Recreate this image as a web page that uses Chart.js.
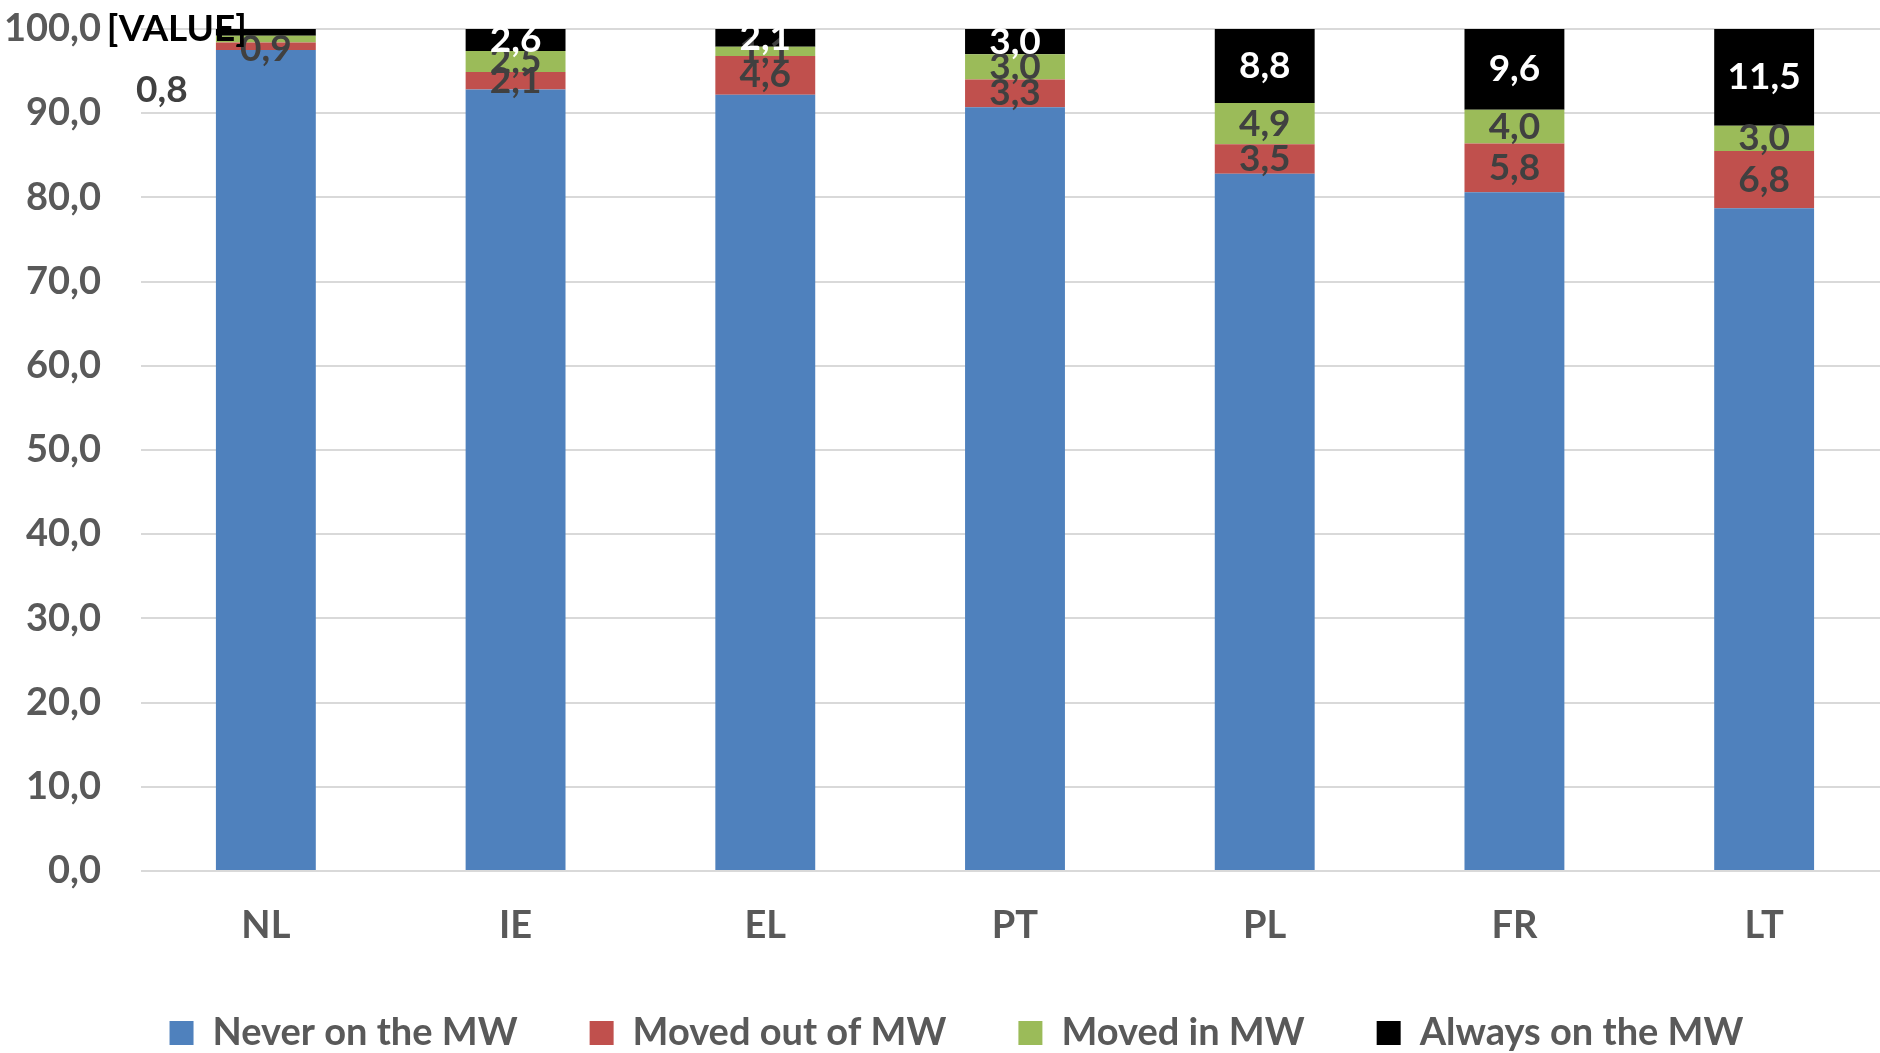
<!DOCTYPE html>
<html>
<head>
<meta charset="utf-8">
<script src="https://cdn.jsdelivr.net/npm/chart.js@4.4.1/dist/chart.umd.min.js"></script>
<style>
  html, body { margin: 0; padding: 0; background: #fff; overflow: hidden; }
  #wrap { width: 1880px; height: 1053px; overflow: hidden; }
</style>
</head>
<body>
<div id="wrap"><canvas id="mwChart" width="1890" height="1062"></canvas></div>
<script>
// categories and series (percent of workers)
const categories = ['NL', 'IE', 'EL', 'PT', 'PL', 'FR', 'LT'];
const neverOnMW = [97.5, 92.8, 92.2, 90.7, 82.8, 80.6, 78.7];
const movedOutOfMW = [0.9, 2.1, 4.6, 3.3, 3.5, 5.8, 6.8];
const movedInMW = [0.8, 2.5, 1.1, 3.0, 4.9, 4.0, 3.0];
const alwaysOnMW = [0.8, 2.6, 2.1, 3.0, 8.8, 9.6, 11.5];
const seriesNames = ['Never on the MW', 'Moved out of MW', 'Moved in MW', 'Always on the MW'];

const FONT = 'Lato, "Open Sans", sans-serif';
const fmt = v => v.toFixed(1).replace('.', ',');

// labels that were dragged off their segment in the NL column
const labelTweaks = {
  '1-0': { dx: 0, dy: 3 },
  '2-0': { dx: -104, dy: 51 },
  '3-0': { dx: -89, dy: -3, text: '[VALUE]', color: '#000000' }
};

const segmentLabels = {
  id: 'segmentLabels',
  afterLayout(chart) {
    // nudge the legend row a bit to the right
    if (chart.legend) {
      chart.legend.left += 12;
      chart.legend.right += 12;
    }
  },
  afterDatasetsDraw(chart) {
    const ctx = chart.ctx;
    ctx.save();
    ctx.font = 'bold 37px ' + FONT;
    ctx.textAlign = 'center';
    ctx.textBaseline = 'middle';
    chart.data.datasets.forEach((ds, di) => {
      if (di === 0) return; // no labels on the blue part
      const meta = chart.getDatasetMeta(di);
      meta.data.forEach((bar, i) => {
        const tw = labelTweaks[di + '-' + i] || {};
        const x = bar.x + (tw.dx || 0);
        const y = (bar.y + bar.base) / 2 + (tw.dy || 0);
        ctx.fillStyle = tw.color || (di === 3 ? '#ffffff' : '#404040');
        ctx.fillText(tw.text || fmt(ds.data[i]), x, y);
      });
    });
    ctx.restore();
  }
};

const ctx = document.getElementById('mwChart').getContext('2d');
new Chart(ctx, {
  type: 'bar',
  data: {
    labels: categories,
    datasets: [
      { label: seriesNames[0], data: neverOnMW, backgroundColor: '#4F81BD' },
      { label: seriesNames[1], data: movedOutOfMW, backgroundColor: '#C0504D' },
      { label: seriesNames[2], data: movedInMW, backgroundColor: '#9BBB59' },
      { label: seriesNames[3], data: alwaysOnMW, backgroundColor: '#000000' }
    ]
  },
  options: {
    responsive: false,
    animation: false,
    layout: { padding: { top: 29, right: 1, left: 0, bottom: 0 } },
    datasets: {
      bar: { categoryPercentage: 1.0, barPercentage: 0.4, borderWidth: 0 }
    },
    plugins: {
      legend: {
        position: 'bottom',
        labels: {
          boxWidth: 24,
          boxHeight: 24,
          padding: 72,
          color: '#595959',
          font: { family: FONT, size: 38, weight: 'bold' }
        }
      },
      tooltip: { enabled: false }
    },
    scales: {
      x: {
        stacked: true,
        grid: { display: false, drawTicks: false },
        border: { display: false },
        ticks: {
          padding: 32,
          color: '#595959',
          font: { family: FONT, size: 38, weight: 'bold' }
        },
        afterFit(scale) {
          scale.height = 71;
          scale.paddingLeft = 0;
          scale.paddingRight = 0;
        }
      },
      y: {
        stacked: true,
        min: 0,
        max: 100,
        grid: { color: '#D9D9D9', lineWidth: 2, drawTicks: false },
        border: { display: false },
        ticks: {
          stepSize: 10,
          padding: 40,
          color: '#595959',
          font: { family: FONT, size: 38, weight: 'bold' },
          callback: v => fmt(v)
        },
        afterFit(scale) {
          scale.width = 141;
          scale.paddingTop = 0;
          scale.paddingBottom = 0;
        }
      }
    }
  },
  plugins: [segmentLabels]
});
</script>
</body>
</html>
